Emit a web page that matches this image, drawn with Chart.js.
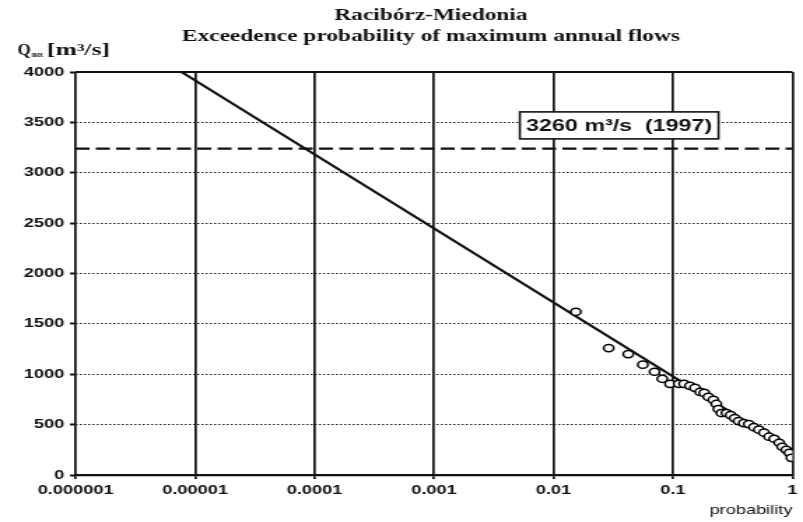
<!DOCTYPE html>
<html>
<head>
<meta charset="utf-8">
<script src="https://cdn.jsdelivr.net/npm/chart.js@4/dist/chart.umd.min.js"></script>
<style>
  html, body { margin: 0; padding: 0; background: #fff; overflow: hidden; }
  /* the scan is stretched sideways, so the whole chart is too */
  #wrap { width: 574px; height: 522px; transform: scaleX(1.399); transform-origin: 0 0; }
</style>
</head>
<body>
<div id="wrap"><canvas id="chart" width="574" height="522"></canvas></div>
<script>
// observed annual maxima (exceedence probability, Qmax m3/s)
const probs = [0.0154, 0.029, 0.0423, 0.056, 0.0702, 0.0815, 0.0946, 0.112, 0.124, 0.139,
  0.153, 0.169, 0.183, 0.198, 0.218, 0.231, 0.240, 0.255, 0.281, 0.304,
  0.329, 0.355, 0.392, 0.432, 0.477, 0.525, 0.579, 0.638, 0.704, 0.776,
  0.822, 0.889, 0.944, 0.982];
const flows = [1620, 1260, 1200, 1095, 1025, 955, 905, 905, 905, 885,
  865, 825, 815, 775, 745, 705, 655, 615, 615, 595,
  565, 535, 515, 505, 475, 450, 420, 380, 360, 320,
  280, 250, 220, 170];

// fitted line
const fitProb = [0.0000077, 1];
const fitFlow = [4000, 245];

// 1997 flood level
const floodProb = [0.000001, 1];
const floodFlow = [3240, 3240];
const floodLabel = '3260 m³/s  (1997)';
const floodLabelAt = [0.0355, 3470];

const xTicks = [0.000001, 0.00001, 0.0001, 0.001, 0.01, 0.1, 1];
const xTickLabels = ['0.000001', '0.00001', '0.0001', '0.001', '0.01', '0.1', '1'];
const yMin = 0, yMax = 4000, yStep = 500;

const titleLines = ['Racibórz-Miedonia', 'Exceedence probability of maximum annual flows'];

const toXY = (xs, ys) => xs.map((x, i) => ({ x: x, y: ys[i] }));

// draw text squeezed/stretched to a given width
function fitText(ctx, text, x, y, w, align) {
  const m = ctx.measureText(text).width;
  ctx.save();
  ctx.translate(x, y);
  ctx.scale(w / m, 1);
  ctx.textAlign = align || 'left';
  ctx.fillText(text, 0, 0);
  ctx.restore();
}

const extras = {
  id: 'extras',
  afterDatasetsDraw(chart) {
    const ctx = chart.ctx, xs = chart.scales.x, ys = chart.scales.y, a = chart.chartArea;
    ctx.save();
    // solid top line at 4000
    ctx.strokeStyle = '#111';
    ctx.lineWidth = 2;
    ctx.beginPath();
    ctx.moveTo(a.left, ys.getPixelForValue(yMax));
    ctx.lineTo(a.right, ys.getPixelForValue(yMax));
    ctx.stroke();

    // boxed label
    const cx = xs.getPixelForValue(floodLabelAt[0]);
    const cy = ys.getPixelForValue(floodLabelAt[1]);
    ctx.fillStyle = '#fff';
    ctx.fillRect(cx - 71, cy - 13.5, 142, 27);
    ctx.lineWidth = 1.6;
    ctx.strokeRect(cx - 71, cy - 13.5, 142, 27);
    ctx.fillStyle = '#111';
    ctx.font = 'bold 17px "Liberation Sans", Arial, sans-serif';
    ctx.textBaseline = 'middle';
    fitText(ctx, floodLabel, cx, cy + 1, 133, 'center');
    ctx.restore();
  },
  afterDraw(chart) {
    const ctx = chart.ctx;
    ctx.save();
    ctx.fillStyle = '#111';
    ctx.textBaseline = 'alphabetic';
    ctx.font = 'bold 16px "Liberation Serif", "Times New Roman", serif';
    fitText(ctx, titleLines[0], 308, 20, 138, 'center');
    fitText(ctx, titleLines[1], 308, 41, 356, 'center');
    // axis title Qmax [m3/s]
    ctx.font = 'bold 16px "Liberation Serif", serif';
    fitText(ctx, 'Q', 12.5, 55, 9.5);
    ctx.font = 'bold 8px "Liberation Serif", serif';
    fitText(ctx, 'max', 22.5, 57, 8.4);
    ctx.font = 'bold 16px "Liberation Serif", serif';
    fitText(ctx, '[m³/s]', 33.6, 55, 45);
    ctx.restore();
  }
};

new Chart(document.getElementById('chart'), {
  type: 'scatter',
  data: {
    datasets: [
      {
        data: toXY(probs, flows),
        pointRadius: 3.6,
        pointBackgroundColor: '#fff',
        pointBorderColor: '#000',
        pointBorderWidth: 1.5
      },
      {
        type: 'line',
        data: toXY(fitProb, fitFlow),
        borderColor: '#111',
        borderWidth: 2.2,
        pointRadius: 0
      },
      {
        type: 'line',
        data: toXY(floodProb, floodFlow),
        borderColor: '#111',
        borderWidth: 2.2,
        borderDash: [10, 4.5],
        pointRadius: 0
      }
    ]
  },
  options: {
    responsive: false,
    animation: false,
    layout: { padding: { top: 72, right: 4, left: 0, bottom: 0 } },
    plugins: { legend: { display: false }, tooltip: { enabled: false } },
    scales: {
      x: {
        type: 'logarithmic',
        min: xTicks[0],
        max: xTicks[xTicks.length - 1],
        afterBuildTicks: s => { s.ticks = xTicks.map(v => ({ value: v })); },
        afterFit: s => { s.height = 47; },
        grid: { color: '#111', lineWidth: 1.7, tickLength: 4, tickColor: '#111' },
        border: { display: true, color: '#111', width: 2.2 },
        ticks: {
          autoSkip: false,
          maxRotation: 0,
          padding: 4,
          color: '#111',
          font: { family: '"Liberation Sans", Arial, sans-serif', size: 13, weight: 'bold' },
          callback: (v, i) => xTickLabels[i]
        },
        title: {
          display: true,
          text: 'probability',
          align: 'end',
          color: '#111',
          padding: { top: 0, bottom: 4 },
          font: { family: '"Liberation Sans", Arial, sans-serif', size: 13 }
        }
      },
      y: {
        min: yMin,
        max: yMax,
        afterFit: s => { s.width = 54; },
        grid: { color: '#222', lineWidth: 1, tickLength: 4, tickWidth: 2, tickColor: '#111' },
        border: { display: false, dash: [1.5, 1.5] },
        ticks: {
          stepSize: yStep,
          padding: 4,
          color: '#111',
          font: { family: '"Liberation Sans", Arial, sans-serif', size: 13, weight: 'bold' },
          callback: v => String(v)
        }
      }
    }
  },
  plugins: [extras]
});
</script>
</body>
</html>
